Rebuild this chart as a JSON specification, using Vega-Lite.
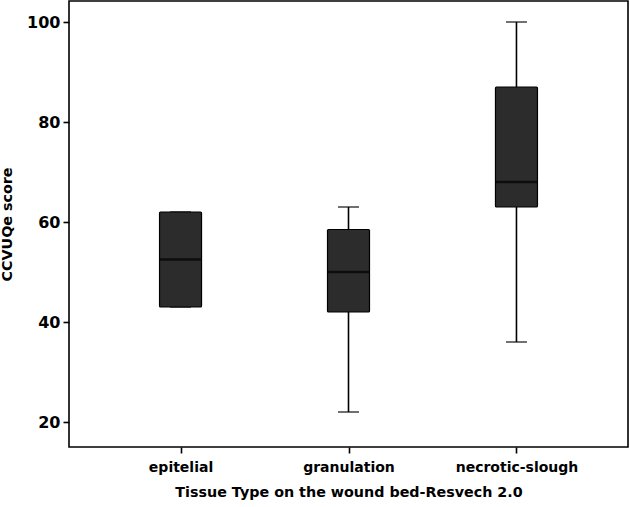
{
  "$schema": "https://vega.github.io/schema/vega-lite/v6.json",
  "width": 559,
  "height": 446,
  "autosize": "none",
  "padding": {"left": 69, "top": 1, "right": 2, "bottom": 60},
  "background": "white",
  "config": {
    "view": {"stroke": "black", "strokeWidth": 1.6},
    "font": "DejaVu Sans",
    "axis": {
      "labelFont": "DejaVu Sans",
      "titleFont": "DejaVu Sans",
      "labelFontWeight": "bold",
      "titleFontWeight": "bold",
      "labelColor": "black",
      "titleColor": "black",
      "labelFontSize": 14,
      "titleFontSize": 14.3,
      "grid": false,
      "domain": false,
      "tickColor": "black",
      "tickWidth": 1.6,
      "tickSize": 6
    }
  },
  "data": {
    "values": [
      {"tissue": "epitelial", "min": 43, "q1": 43, "median": 52.5, "q3": 62, "max": 62},
      {"tissue": "granulation", "min": 22, "q1": 42, "median": 50, "q3": 58.5, "max": 63},
      {"tissue": "necrotic-slough", "min": 36, "q1": 63, "median": 68, "q3": 87, "max": 100}
    ]
  },
  "encoding": {
    "x": {
      "field": "tissue",
      "type": "nominal",
      "sort": null,
      "scale": {"type": "point", "padding": 0.664},
      "axis": {"title": "Tissue Type on the wound bed-Resvech 2.0", "labelAngle": 0, "labelPadding": 7, "titlePadding": 11}
    }
  },
  "layer": [
    {
      "mark": {"type": "rule", "color": "black", "strokeWidth": 1.6},
      "encoding": {
        "y": {"field": "min", "type": "quantitative", "scale": {"domain": [15, 104.2], "nice": false, "zero": false},
          "axis": {"title": "CCVUQe score", "values": [20, 40, 60, 80, 100], "labelPadding": 3, "labelFontSize": 16, "titlePadding": 12}},
        "y2": {"field": "max"}
      }
    },
    {
      "mark": {"type": "tick", "color": "black", "size": 21, "thickness": 1.6, "orient": "horizontal"},
      "encoding": {"y": {"field": "min", "type": "quantitative"}}
    },
    {
      "mark": {"type": "tick", "color": "black", "size": 21, "thickness": 1.6, "orient": "horizontal"},
      "encoding": {"y": {"field": "max", "type": "quantitative"}}
    },
    {
      "mark": {"type": "bar", "width": 42, "fill": "#2c2c2c", "stroke": "black", "strokeWidth": 1.2, "cornerRadius": 1},
      "encoding": {
        "y": {"field": "q1", "type": "quantitative"},
        "y2": {"field": "q3"}
      }
    },
    {
      "mark": {"type": "tick", "color": "black", "size": 42, "thickness": 2.5, "orient": "horizontal"},
      "encoding": {"y": {"field": "median", "type": "quantitative"}}
    }
  ]
}
